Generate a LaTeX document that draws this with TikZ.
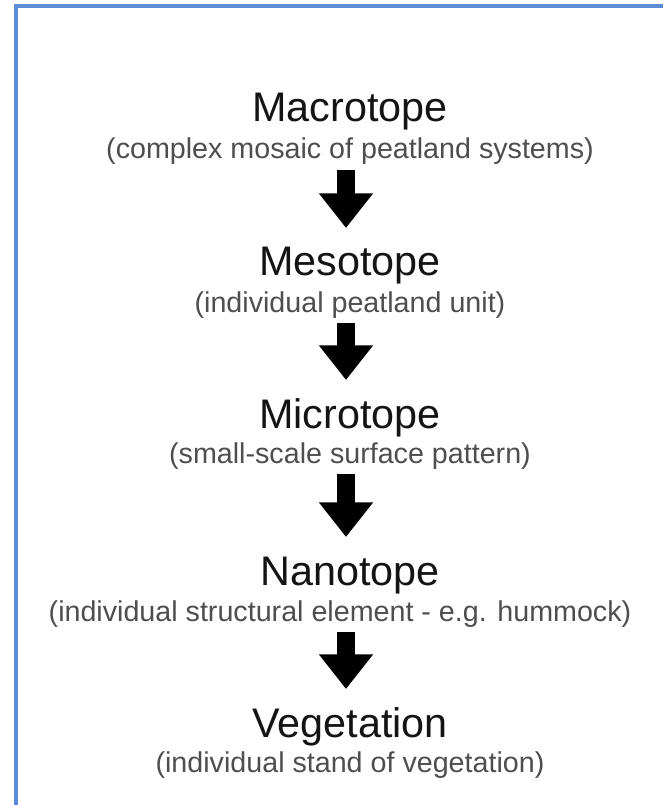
\documentclass[tikz,border=0pt]{standalone}
\usepackage{fontspec}
\setmainfont{Liberation Sans}
\usepackage{tikz}
\usetikzlibrary{arrows.meta, calc}
\definecolor{frame}{RGB}{91,140,212}
\definecolor{caption}{RGB}{78,78,78}

\begin{document}
\begin{tikzpicture}[x=0.75pt, y=-0.75pt,
	level/.style={anchor=base, inner sep=0pt, text=black!92,
		font=\fontsize{31}{36}\selectfont},
	note/.style={anchor=base, inner sep=0pt, text=caption,
		font=\fontsize{21.5}{26}\selectfont},
	down/.style={line width=13.5pt, -{Triangle[width=39pt, length=26pt]}}]
	\useasboundingbox (0,0) rectangle (663,805);
	
	% frame : left and top edges only
	\draw[frame, line width=2.3pt] (16,805) -- (16,6) -- (663,6);
	
	% the five levels, coarse to fine
	\node[level] (t1) at (350,122) {Macrotope};
	\node[note]  (s1) at (350,159) {(complex mosaic of peatland systems)};
	
	\node[level] (t2) at (350,276) {Mesotope};
	\node[note]  (s2) at (350,312) {(individual peatland unit)};
	
	\node[level] (t3) at (350,428) {Microtope};
	\node[note]  (s3) at (350,463) {(small-scale surface pattern)};
	
	\node[level] (t4) at (350,585) {Nanotope};
	\node[note]  (s4) at (340,621) {(individual structural element - e.g. hummock)};
	
	\node[level] (t5) at (350,737) {Vegetation};
	\node[note]  (s5) at (350,772) {(individual stand of vegetation)};
	
	% block arrows between levels
	\foreach \i [evaluate=\i as \j using int(\i+1)] in {1,...,4} {
		\draw[down] ($(s\i.base -| t\j.base)+(-4,11)$) -- ($(t\j.base)+(-4,-48)$);
	}
\end{tikzpicture}
\end{document}
